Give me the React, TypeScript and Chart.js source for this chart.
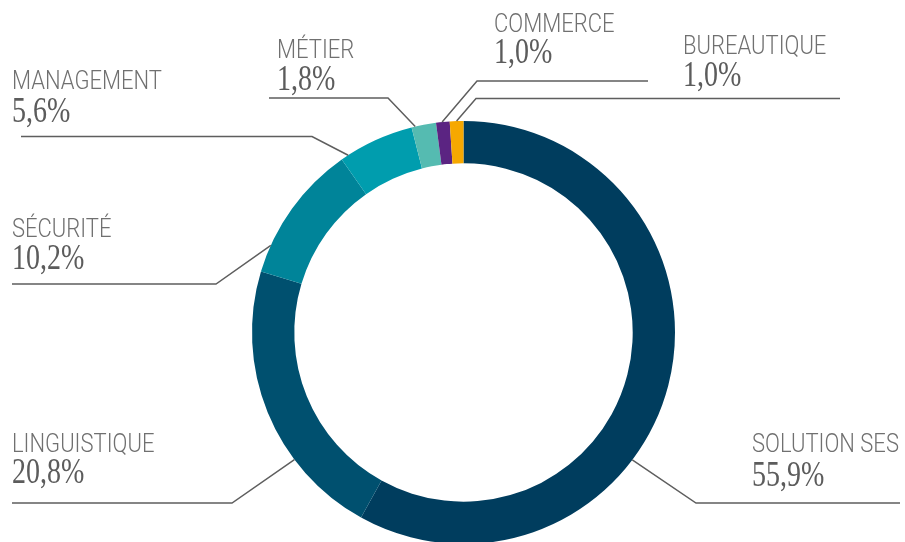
import React, { useEffect, useRef } from 'react';
import { Chart, registerables } from 'chart.js';

Chart.register(...registerables);

// ---- data ----
const categories = ['SOLUTION SES', 'LINGUISTIQUE', 'SÉCURITÉ', 'MANAGEMENT', 'MÉTIER', 'COMMERCE', 'BUREAUTIQUE'];
const shares = [55.9, 20.8, 10.2, 5.6, 1.8, 1.0, 1.0];
const sliceColors = ['#003d5e', '#00506f', '#008499', '#009dae', '#55bbb1', '#5b2482', '#f6a800'];

// ---- label layout (annotation placement only) ----
const labelLayout = [
  { frac: 0.608, textX: 752, nameY: 451.7, valueY: 485.5, lineY: 503, elbowX: 696, endX: 900 },
  { frac: 0.31, textX: 12, nameY: 451.7, valueY: 483.3, lineY: 503, elbowX: 232, endX: 12 },
  { frac: 0.2, textX: 12, nameY: 237, valueY: 269, lineY: 284, elbowX: 216, endX: 12 },
  { frac: 0.1, textX: 12, nameY: 89, valueY: 122, lineY: 136.5, elbowX: 312, endX: 21 },
  { frac: 0.15, textX: 277, nameY: 57.5, valueY: 90, lineY: 98, elbowX: 388, endX: 269 },
  { frac: 0.45, textX: 494, nameY: 32.3, valueY: 63, lineY: 81, elbowX: 477, endX: 648 },
  { frac: 0.5, textX: 683, nameY: 54, valueY: 86, lineY: 98.5, elbowX: 476, endX: 840 },
];

const NAME_FONT = '300 25px Roboto';
const NAME_SCALE = 0.88;
const VALUE_FONT = '35px "Liberation Serif"';
const VALUE_SCALE = 0.8;

const fmt = (v: number) => v.toFixed(1).replace('.', ',') + '%';

const labelPlugin = {
  id: 'leaderLabels',
  afterDraw(chart: any) {
    const ctx = chart.ctx as CanvasRenderingContext2D;
    const meta = chart.getDatasetMeta(0);
    meta.data.forEach((arc: any, i: number) => {
      const L = labelLayout[i];
      if (!L) return;
      const p = arc.getProps(['x', 'y', 'startAngle', 'endAngle', 'outerRadius'], true);
      const a = p.startAngle + L.frac * (p.endAngle - p.startAngle);
      const ax = p.x + p.outerRadius * Math.cos(a);
      const ay = p.y + p.outerRadius * Math.sin(a);
      ctx.save();
      ctx.strokeStyle = '#5e5e5e';
      ctx.lineWidth = 1.5;
      ctx.beginPath();
      ctx.moveTo(ax, ay);
      ctx.lineTo(L.elbowX, L.lineY);
      ctx.lineTo(L.endX, L.lineY);
      ctx.stroke();

      ctx.textAlign = 'left';
      ctx.textBaseline = 'alphabetic';
      ctx.fillStyle = '#707070';
      ctx.font = NAME_FONT;
      ctx.save();
      ctx.translate(L.textX, L.nameY);
      ctx.scale(NAME_SCALE, 1);
      ctx.fillText(String(chart.data.labels[i]), 0, 0);
      ctx.restore();

      ctx.fillStyle = '#5c5c5c';
      ctx.font = VALUE_FONT;
      ctx.save();
      ctx.translate(L.textX, L.valueY);
      ctx.scale(VALUE_SCALE, 1);
      ctx.fillText(fmt(chart.data.datasets[0].data[i]), 0, 0);
      ctx.restore();
      ctx.restore();
    });
  },
};

export default function App() {
  const ref = useRef<HTMLCanvasElement | null>(null);
  useEffect(() => {
    if (!ref.current) return;
    const chart = new Chart(ref.current, {
      type: 'doughnut',
      data: {
        labels: categories,
        datasets: [
          {
            data: shares,
            backgroundColor: sliceColors,
            borderWidth: 0,
            hoverOffset: 0,
          },
        ],
      },
      options: {
        animation: false,
        responsive: false,
        cutout: '80%',
        layout: { padding: { left: 252, right: 230, top: 121, bottom: 16 } },
        plugins: { legend: { display: false }, tooltip: { enabled: false } },
      },
      plugins: [labelPlugin],
    });
    return () => chart.destroy();
  }, []);
  return (
    <div style={{ position: 'absolute', left: 0, top: 0, width: 905, height: 542, overflow: 'hidden', background: '#fff' }}>
      <canvas ref={ref} width={905} height={560} style={{ width: 905, height: 560, display: 'block' }} />
    </div>
  );
}
